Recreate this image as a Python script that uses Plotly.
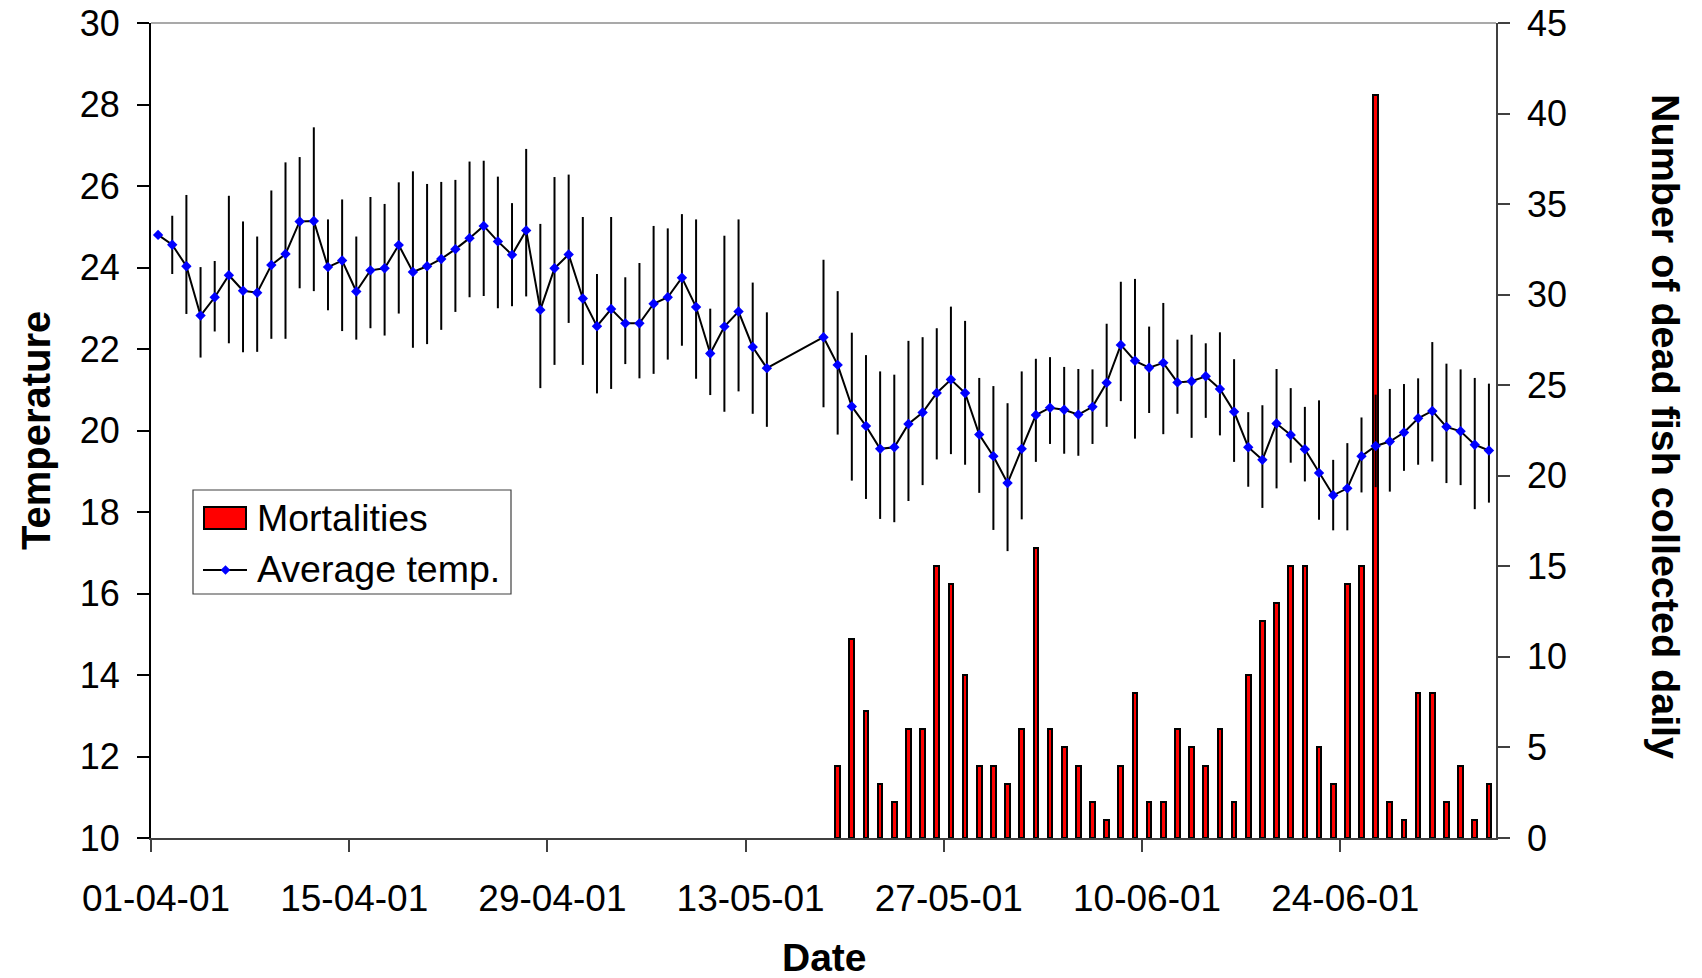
import pandas as pd
import plotly.graph_objects as go

# ---- data -------------------------------------------------------------
first_day = "2001-04-01"

# daily average temperature (None = no reading)
temp_avg = [
    24.80, 24.56, 24.03, 22.82, 23.27, 23.81, 23.43, 23.38, 24.06, 24.33,
    25.13, 25.14, 24.01, 24.17, 23.41, 23.93, 23.98, 24.55, 23.89, 24.03,
    24.21, 24.45, 24.72, 25.02, 24.64, 24.31, 24.91, 22.96, 23.98, 24.32,
    23.24, 22.56, 22.98, 22.63, 22.63, 23.11, 23.27, 23.75, 23.03, 21.89,
    22.55, 22.92, 22.05, 21.53, None, None, None, 22.29, 21.61, 20.59,
    20.11, 19.55, 19.59, 20.16, 20.44, 20.92, 21.25, 20.92, 19.90, 19.37,
    18.71, 19.55, 20.38, 20.56, 20.51, 20.39, 20.58, 21.17, 22.10, 21.71,
    21.54, 21.66, 21.18, 21.21, 21.33, 21.02, 20.46, 19.59, 19.28, 20.17,
    19.89, 19.54, 18.96, 18.41, 18.58, 19.37, 19.62, 19.73, 19.95, 20.30,
    20.48, 20.09, 19.98, 19.65, 19.51,
]

# daily maximum temperature
temp_max = [
    24.80, 25.27, 25.78, 24.01, 24.16, 25.76, 25.13, 24.76, 25.89, 26.58,
    26.71, 27.44, 25.18, 25.67, 24.76, 25.73, 25.56, 26.09, 26.36, 26.05,
    26.10, 26.15, 26.60, 26.62, 26.23, 25.58, 26.91, 25.07, 26.22, 26.28,
    25.24, 23.84, 25.24, 23.76, 24.11, 25.02, 24.96, 25.31, 25.18, 22.99,
    24.78, 25.18, 23.63, 22.90, None, None, None, 24.19, 23.42, 22.40,
    21.85, 21.45, 21.37, 22.20, 22.29, 22.51, 23.04, 22.69, 21.29, 21.09,
    20.67, 21.45, 21.76, 21.80, 21.56, 21.51, 21.50, 22.62, 23.65, 23.72,
    22.55, 23.13, 22.23, 22.35, 22.14, 22.41, 21.75, 20.45, 20.62, 21.51,
    21.04, 20.58, 20.74, 19.28, 19.69, 20.32, 20.88, 21.02, 21.14, 21.28,
    22.17, 21.64, 21.50, 21.29, 21.15,
]

# daily minimum temperature
temp_min = [
    24.80, 23.84, 22.86, 21.79, 22.43, 22.14, 21.92, 21.93, 22.25, 22.25,
    23.49, 23.42, 22.95, 22.44, 22.23, 22.51, 22.33, 22.87, 22.03, 22.12,
    22.47, 22.91, 23.27, 23.30, 23.00, 23.05, 23.29, 21.04, 21.61, 22.64,
    21.61, 20.91, 21.02, 21.63, 21.28, 21.39, 21.74, 22.08, 21.27, 20.87,
    20.46, 20.96, 20.41, 20.09, None, None, None, 20.57, 19.90, 18.77,
    18.32, 17.83, 17.75, 18.27, 18.66, 19.29, 19.42, 19.16, 18.47, 17.56,
    17.04, 17.82, 19.23, 19.67, 19.43, 19.38, 19.67, 20.09, 20.72, 19.80,
    20.43, 19.91, 20.41, 19.82, 20.31, 19.88, 19.23, 18.62, 18.10, 18.58,
    19.21, 18.75, 17.81, 17.55, 17.55, 18.48, 18.61, 18.50, 19.01, 19.16,
    19.24, 18.71, 18.66, 18.07, 18.23,
]

# number of dead fish collected each day, from 19 May onwards
mort_first_day = "2001-05-19"
mortalities = [
    4, 11, 7, 3, 2, 6, 6, 15, 14, 9,
    4, 4, 3, 6, 16, 6, 5, 4, 2, 1,
    4, 8, 2, 2, 6, 5, 4, 6, 2, 9,
    12, 13, 15, 15, 5, 3, 14, 15, 41, 2,
    1, 8, 8, 2, 4, 1, 3,
]

# ---- derived series ---------------------------------------------------
DAY_MS = 86400000
half_day = pd.Timedelta(hours=12)
temp_days = pd.date_range(first_day, periods=len(temp_avg), freq="D") + half_day
mort_days = pd.date_range(mort_first_day, periods=len(mortalities), freq="D") + half_day

err_up = [(h - m) if m is not None else 0 for h, m in zip(temp_max, temp_avg)]
err_down = [(m - l) if m is not None else 0 for l, m in zip(temp_min, temp_avg)]

FONT = "Liberation Sans, Arial, sans-serif"
W, H = 1702, 978
ML, MR, MT, MB = 151, 206, 23, 140
PW, PH = W - ML - MR, H - MT - MB


def px(x):
    return (x - ML) / PW


def py(y):
    return 1 - (y - MT) / PH


fig = go.Figure()

fig.add_trace(go.Bar(
    x=mort_days, y=mortalities, name="Mortalities",
    width=0.33 * DAY_MS,
    marker=dict(color="#FF0000", line=dict(color="black", width=2)),
    yaxis="y", showlegend=False,
))

fig.add_trace(go.Scatter(
    x=temp_days, y=temp_avg, name="Average temp.",
    mode="lines+markers", connectgaps=True,
    line=dict(color="black", width=2),
    marker=dict(symbol="diamond", size=8, color="#0000FF", line=dict(width=0)),
    error_y=dict(type="data", symmetric=False, array=err_up, arrayminus=err_down,
                 color="black", thickness=2, width=0),
    yaxis="y2", showlegend=False,
))

axis_common = dict(
    showgrid=False, zeroline=False, showline=True,
    ticks="outside", ticklen=12, tickwidth=1.5,
)

fig.update_layout(
    width=W, height=H,
    margin=dict(l=ML, r=MR, t=MT, b=MB, autoexpand=False),
    paper_bgcolor="white", plot_bgcolor="white",
    font=dict(family=FONT, color="black"),
    bargap=0,
    xaxis=dict(
        **axis_common,
        type="date",
        range=["2001-04-01", "2001-07-05"],
        tick0="2001-04-01", dtick=14 * DAY_MS,
        tickformat="%d-%m-%y",
        linecolor="#404040", tickcolor="#404040", linewidth=1.5,
        tickfont=dict(size=37, family=FONT),
        ticklabelstandoff=15, ticklabelshift=5,
        anchor="y",
    ),
    yaxis=dict(
        **axis_common,
        side="right", range=[0, 45], dtick=5,
        linecolor="#404040", tickcolor="#404040", linewidth=1.5,
        tickfont=dict(size=36, family=FONT),
        ticklabelstandoff=10,
        anchor="x",
    ),
    yaxis2=dict(
        **axis_common,
        side="left", overlaying="y", range=[10, 30], dtick=2,
        linecolor="black", tickcolor="black", linewidth=2,
        tickfont=dict(size=36, family=FONT),
        ticklabelstandoff=10,
        anchor="x",
    ),
)

shapes = [
    # plot-area top border
    dict(type="line", xref="paper", yref="paper", x0=0, x1=1, y0=1, y1=1,
         line=dict(color="#8c8c8c", width=1.5)),
    # legend frame
    dict(type="rect", xref="paper", yref="paper",
         x0=px(193), x1=px(511), y0=py(594), y1=py(490),
         line=dict(color="#404040", width=1.2), fillcolor="white", layer="above"),
    # legend swatch: mortalities
    dict(type="rect", xref="paper", yref="paper",
         x0=px(204), x1=px(246), y0=py(529), y1=py(507),
         line=dict(color="black", width=2), fillcolor="#FF0000", layer="above"),
    # legend swatch: average temperature line
    dict(type="line", xref="paper", yref="paper",
         x0=px(203), x1=px(247), y0=py(570), y1=py(570),
         line=dict(color="black", width=2), layer="above"),
]
cx, cy, r = 225.5, 570, 4.8
shapes.append(dict(
    type="path", xref="paper", yref="paper", layer="above",
    path=(f"M {px(cx)},{py(cy - r)} L {px(cx + r)},{py(cy)} "
          f"L {px(cx)},{py(cy + r)} L {px(cx - r)},{py(cy)} Z"),
    fillcolor="#0000FF", line=dict(width=0),
))

annotations = [
    dict(text="Mortalities", xref="paper", yref="paper", x=px(255), y=py(518),
         xanchor="left", yanchor="middle", showarrow=False,
         font=dict(size=37.5, family=FONT, color="black")),
    dict(text="Average temp.", xref="paper", yref="paper", x=px(255), y=py(569),
         xanchor="left", yanchor="middle", showarrow=False,
         font=dict(size=37.5, family=FONT, color="black")),
    dict(text="<b>Date</b>", xref="paper", yref="paper", x=px(824), y=py(957),
         xanchor="center", yanchor="middle", showarrow=False,
         font=dict(size=39, family=FONT, color="black")),
    dict(text="<b>Temperature</b>", xref="paper", yref="paper", x=px(36), y=py(431),
         xanchor="center", yanchor="middle", showarrow=False, textangle=-90,
         font=dict(size=40, family=FONT, color="black")),
    dict(text="<b>Number of dead fish collected daily</b>", xref="paper", yref="paper",
         x=px(1666), y=py(426), xanchor="center", yanchor="middle",
         showarrow=False, textangle=90,
         font=dict(size=39.5, family=FONT, color="black")),
]

fig.update_layout(shapes=shapes, annotations=annotations)

fig.write_html("out.html", post_script="document.body.style.margin='0';")
